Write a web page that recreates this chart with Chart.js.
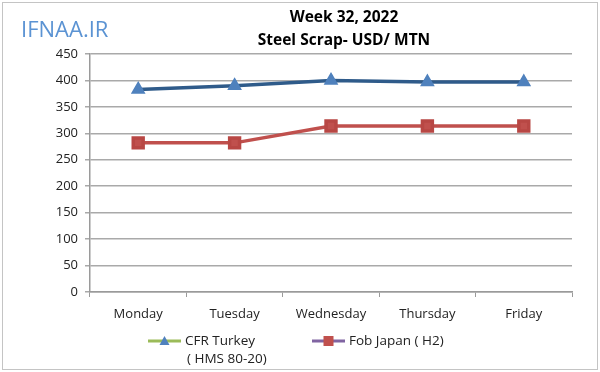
<!DOCTYPE html>
<html>
<head>
<meta charset="utf-8">
<script src="https://cdn.jsdelivr.net/npm/chart.js@4"></script>
<style>
  html, body { margin: 0; padding: 0; background: #fff; }
  #wrap { position: relative; width: 600px; height: 372px; }
  canvas { display: block; }
</style>
</head>
<body>
<div id="wrap"><canvas id="c" width="600" height="372"></canvas></div>
<script>
const categories = ['Monday', 'Tuesday', 'Wednesday', 'Thursday', 'Friday'];
const cfrTurkey = [383, 390, 400, 397, 397];
const fobJapan = [282, 282, 314, 314, 314];
const titleLines = ['Week 32, 2022', 'Steel Scrap- USD/ MTN'];
const seriesNames = [['CFR Turkey', '( HMS 80-20)'], ['Fob Japan ( H2)']];
const watermark = 'IFNAA.IR';

const FONT = '"Open Sans", sans-serif';

const decorPlugin = {
  id: 'decor',
  afterDraw(chart) {
    const ctx = chart.ctx;
    ctx.save();
    // frame
    ctx.strokeStyle = '#c4c4c4';
    ctx.lineWidth = 1;
    ctx.strokeRect(2.5, 2.5, 595, 367);
    // watermark
    ctx.fillStyle = '#5b93d3';
    ctx.font = '22px "Open Sans", sans-serif';
    ctx.textBaseline = 'middle';
    ctx.textAlign = 'left';
    ctx.fillText(watermark, 21, 31);
    // titles
    ctx.fillStyle = '#000';
    ctx.font = 'bold 15.5px "Open Sans", sans-serif';
    ctx.textAlign = 'center';
    ctx.fillText(titleLines[0], 344, 18);
    ctx.fillText(titleLines[1], 344, 41);
    // legend
    const items = [
      { x: 148, line: '#9bbb59', marker: 'triangle', mcolor: '#4f81bd', text: seriesNames[0] },
      { x: 312, line: '#8064a2', marker: 'rect', mcolor: '#c0504d', text: seriesNames[1] }
    ];
    const ly = 341;
    items.forEach(it => {
      ctx.strokeStyle = it.line;
      ctx.lineWidth = 3;
      ctx.beginPath();
      ctx.moveTo(it.x, ly);
      ctx.lineTo(it.x + 33, ly);
      ctx.stroke();
      ctx.fillStyle = it.mcolor;
      const cx = it.x + 16.5;
      if (it.marker === 'triangle') {
        ctx.beginPath();
        ctx.moveTo(cx, ly - 5);
        ctx.lineTo(cx + 5, ly + 4);
        ctx.lineTo(cx - 5, ly + 4);
        ctx.closePath();
        ctx.fill();
      } else {
        ctx.fillRect(cx - 5, ly - 5, 10, 10);
      }
      ctx.fillStyle = '#222';
      ctx.font = '13.5px "Open Sans", sans-serif';
      ctx.textAlign = 'left';
      ctx.fillText(it.text[0], it.x + 37, ly);
      if (it.text[1]) ctx.fillText(it.text[1], it.x + 39, ly + 18);
    });
    ctx.restore();
  }
};

new Chart(document.getElementById('c'), {
  type: 'line',
  data: {
    labels: categories,
    datasets: [
      {
        label: seriesNames[0].join(' '),
        data: cfrTurkey,
        borderColor: '#2f5b8a',
        borderWidth: 3.5,
        backgroundColor: '#4f81bd',
        pointStyle: 'triangle',
        pointRadius: 5,
        pointBackgroundColor: '#4f81bd',
        pointBorderColor: '#4f81bd',
        tension: 0
      },
      {
        label: seriesNames[1].join(' '),
        data: fobJapan,
        borderColor: '#c0504d',
        borderWidth: 3.5,
        backgroundColor: '#c0504d',
        pointStyle: 'rect',
        pointRadius: 7,
        pointBackgroundColor: '#c0504d',
        pointBorderColor: '#b84744',
        tension: 0
      }
    ]
  },
  options: {
    responsive: false,
    animation: false,
    layout: { padding: { left: 0, right: 28, top: 54, bottom: 50 } },
    plugins: {
      legend: { display: false },
      title: { display: false },
      tooltip: { enabled: false }
    },
    scales: {
      x: {
        offset: true,
        afterFit(scale) { scale.height = 30; },
        grid: {
          offset: true,
          drawOnChartArea: false,
          drawTicks: true,
          tickLength: 5,
          color: '#9a9a9a'
        },
        border: { color: '#9a9a9a', width: 1.5 },
        ticks: {
          color: '#222',
          font: { family: FONT, size: 13 },
          padding: 9,
          maxRotation: 0
        }
      },
      y: {
        min: 0,
        max: 450,
        afterFit(scale) { scale.width = 90; },
        grid: {
          color: '#a9a9a9',
          lineWidth: 1.5,
          tickLength: 5
        },
        border: { color: '#9a9a9a', width: 1.5 },
        ticks: {
          stepSize: 50,
          color: '#222',
          font: { family: FONT, size: 13 },
          padding: 7
        }
      }
    }
  },
  plugins: [decorPlugin]
});
</script>
</body>
</html>
